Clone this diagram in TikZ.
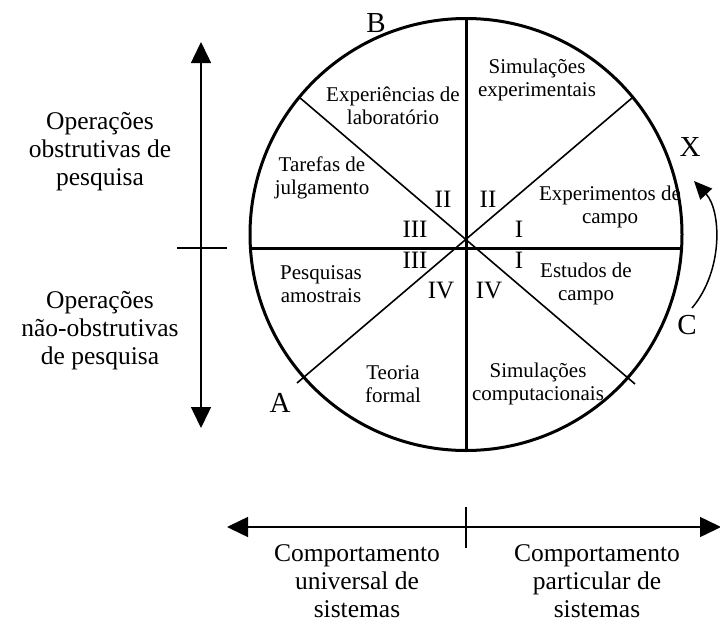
\documentclass[tikz,border=0pt]{standalone}
\usepackage{fontspec}
\setmainfont{Liberation Serif}
\usetikzlibrary{arrows.meta}

\begin{document}
\begin{tikzpicture}[x=1pt,y=-1pt,
  setor/.style={align=center,inner sep=0pt,font=\fontsize{21}{23}\selectfont},
  quadrante/.style={inner sep=0pt,font=\fontsize{25}{25}\selectfont},
  letra/.style={inner sep=0pt,font=\fontsize{29}{29}\selectfont},
  eixo/.style={align=center,inner sep=0pt,font=\fontsize{25.5}{28}\selectfont},
  seta/.style={line width=1.5pt,{Triangle[length=21pt,width=20pt]}-{Triangle[length=21pt,width=20pt]}}]
\useasboundingbox (0,0) rectangle (720,624);

\coordinate (O) at (466,234.5);
\coordinate (top) at (466,19);
\coordinate (bot) at (466,450);
\coordinate (left) at (250,248.5);
\coordinate (right) at (682,248.5);
\coordinate (ul) at (299,97);
\coordinate (lr) at (635,384);
\coordinate (ur) at (632,98);
\coordinate (ll) at (297,383);

\draw[line width=3pt] (O) circle (216pt);
\draw[line width=3pt] (top)--(bot);
\draw[line width=3pt] (left)--(right);
\draw[line width=1.6pt] (ul)--(lr);
\draw[line width=1.6pt] (ur)--(ll);

% setores
\node[setor] (lab) at (393,106) {Experiências de\\laboratório};
\node[setor] (simexp) at (537,80) {Simulações\\experimentais};
\node[setor] (taref) at (322,178) {Tarefas de\\julgamento};
\node[setor] (expcam) at (610,207) {Experimentos de\\campo};
\node[setor] (pesq) at (321,284) {Pesquisas\\amostrais};
\node[setor] (estcam) at (586,284) {Estudos de\\campo};
\node[setor] (teoria) at (393,384) {Teoria\\formal};
\node[setor] (simcomp) at (538,384) {Simulações\\computacionais};

% quadrantes
\node[quadrante] (IIa) at (443,199) {II};
\node[quadrante] (IIb) at (488,199) {II};
\node[quadrante] (IIIa) at (415,229) {III};
\node[quadrante] (Ia) at (519,229) {I};
\node[quadrante] (IIIb) at (415,260) {III};
\node[quadrante] (Ib) at (519,260) {I};
\node[quadrante] (IVa) at (441,290) {IV};
\node[quadrante] (IVb) at (489,290) {IV};

\node[letra] (B) at (376,23) {B};
\node[letra] (X) at (690,147) {X};
\node[letra] (C) at (687,325) {C};
\node[letra] (A) at (280,403) {A};

% seta curva
\coordinate (c0) at (692,308);
\coordinate (c1) at (694,181);
\draw[line width=1.5pt,-{Triangle[length=18pt,width=16pt]}] (c0) .. controls (724,270) and (721,210) .. (c1);

% eixo vertical
\coordinate (vt) at (201,42);
\coordinate (vb) at (201,428);
\coordinate (vl) at (177,248);
\coordinate (vr) at (227,248);
\draw[seta] (vb)--(vt);
\draw[line width=1.5pt] (vl)--(vr);
\node[eixo] (obs) at (100,152) {Operações\\obstrutivas de\\pesquisa};
\node[eixo] (naoobs) at (100,331) {Operações\\não-obstrutivas\\de pesquisa};

% eixo horizontal
\coordinate (hl) at (227,527);
\coordinate (hr) at (721,527);
\coordinate (ht) at (466,507);
\coordinate (hb) at (466,548);
\draw[seta] (hl)--(hr);
\draw[line width=1.5pt] (ht)--(hb);
\node[eixo] (univ) at (357,581) {Comportamento\\universal de\\sistemas};
\node[eixo] (part) at (597,581) {Comportamento\\particular de\\sistemas};

\end{tikzpicture}
\end{document}
